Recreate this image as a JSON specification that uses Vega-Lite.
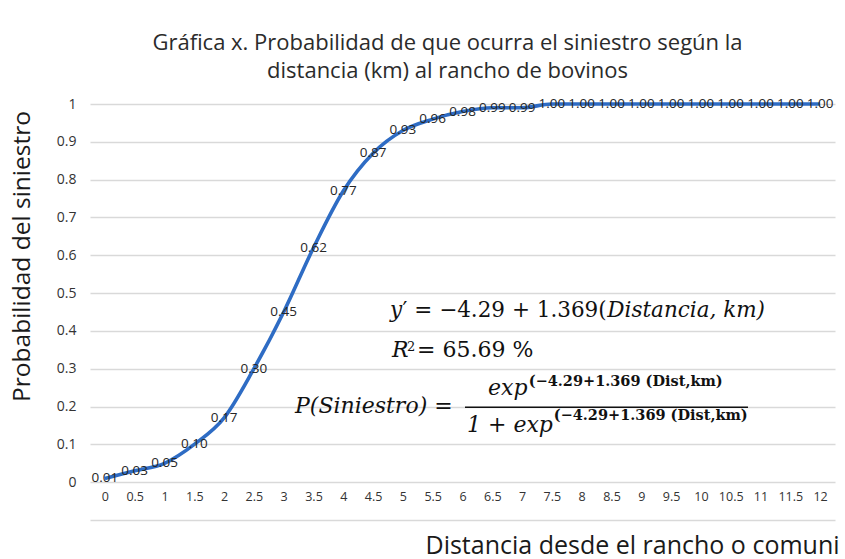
{
  "$schema": "https://vega.github.io/schema/vega-lite/v6.json",
  "width": 745,
  "height": 416,
  "autosize": "none",
  "padding": {"left": 90, "top": 104, "right": 10, "bottom": 39},
  "background": "white",
  "config": {"view": {"stroke": null}, "font": "Open Sans"},
  "title": {
    "text": ["Gráfica x. Probabilidad de que ocurra el siniestro según la", "distancia (km) al rancho de bovinos"],
    "font": "Open Sans",
    "fontSize": 22,
    "fontWeight": "normal",
    "color": "#2b2b2b",
    "lineHeight": 28,
    "anchor": "middle",
    "dx": -15,
    "offset": 14
  },
  "datasets": {
    "curve": [
      {"d": 0, "p": 0.01}, {"d": 0.5, "p": 0.03}, {"d": 1, "p": 0.05}, {"d": 1.5, "p": 0.10},
      {"d": 2, "p": 0.17}, {"d": 2.5, "p": 0.30}, {"d": 3, "p": 0.45}, {"d": 3.5, "p": 0.62},
      {"d": 4, "p": 0.77}, {"d": 4.5, "p": 0.87}, {"d": 5, "p": 0.93}, {"d": 5.5, "p": 0.96},
      {"d": 6, "p": 0.98}, {"d": 6.5, "p": 0.99}, {"d": 7, "p": 0.99}, {"d": 7.5, "p": 1.00},
      {"d": 8, "p": 1.00}, {"d": 8.5, "p": 1.00}, {"d": 9, "p": 1.00}, {"d": 9.5, "p": 1.00},
      {"d": 10, "p": 1.00}, {"d": 10.5, "p": 1.00}, {"d": 11, "p": 1.00}, {"d": 11.5, "p": 1.00},
      {"d": 12, "p": 1.00}
    ],
    "one": [{"n": 1}]
  },
  "layer": [
    {
      "data": {"name": "curve"},
      "encoding": {
        "x": {
          "field": "d", "type": "ordinal",
          "scale": {"type": "point", "padding": 0.5},
          "axis": {
            "title": "Distancia desde el rancho o comuni",
            "titleFont": "Open Sans",
            "titleFontSize": 25,
            "titleFontWeight": "normal",
            "titleColor": "#1a1a1a",
            "titleAnchor": "start",
            "titleAlign": "left",
            "titleX": 335,
            "titleY": 25,
            "titleBaseline": "middle",
            "labelAngle": 0,
            "labelFont": "Open Sans",
            "labelFontSize": 12.5,
            "labelColor": "#333333",
            "labelPadding": -30,
            "labelOverlap": false,
            "ticks": false,
            "domain": true,
            "domainColor": "#d9d9d9",
            "domainWidth": 1.5,
            "grid": false
          }
        },
        "y": {
          "field": "p", "type": "quantitative",
          "scale": {"domain": [-0.1, 1], "nice": false, "zero": false},
          "axis": {
            "values": [0, 0.1, 0.2, 0.3, 0.4, 0.5, 0.6, 0.7, 0.8, 0.9, 1],
            "format": "~g",
            "title": "Probabilidad del siniestro",
            "titleFont": "Open Sans",
            "titleFontSize": 24.5,
            "titleFontWeight": "normal",
            "titleColor": "#1a1a1a",
            "titleX": -68,
            "titleY": 152,
            "titleAngle": -90,
            "titleAlign": "center",
            "titleBaseline": "middle",
            "labelFont": "Open Sans",
            "labelFontSize": 14,
            "labelColor": "#333333",
            "labelPadding": 14,
            "ticks": false,
            "domain": false,
            "grid": true,
            "gridColor": "#d9d9d9",
            "gridWidth": 1.5
          }
        }
      },
      "layer": [
        {"mark": {"type": "line", "interpolate": "monotone", "color": "#2e6cc4", "strokeWidth": 3.6}},
        {"mark": {"type": "text", "font": "Open Sans", "fontSize": 13.5, "color": "#262626", "align": "center", "baseline": "middle"},
         "encoding": {"text": {"field": "p", "type": "quantitative", "format": ".2f"}}}
      ]
    },
    {
      "data": {"name": "one"},
      "layer": [
        {"mark": {"type": "text", "font": "DejaVu Serif", "fontSize": 21.5, "fontStyle": "italic", "align": "left", "baseline": "alphabetic", "color": "#111111"},
         "encoding": {"x": {"datum": 4.784, "type": "quantitative", "scale": {"domain": [-0.25, 12.25], "nice": false, "zero": false}, "axis": null}, "y": {"datum": 0.4365, "type": "quantitative"}, "text": {"value": "y"}}},
        {"mark": {"type": "text", "font": "DejaVu Serif", "fontSize": 21.5, "align": "left", "baseline": "alphabetic", "color": "#111111"},
         "encoding": {"x": {"datum": 4.995, "type": "quantitative"}, "y": {"datum": 0.4365, "type": "quantitative"}, "text": {"value": "′ = −4.29 + 1.369("}}},
        {"mark": {"type": "text", "font": "DejaVu Serif", "fontSize": 21.5, "fontStyle": "italic", "align": "left", "baseline": "alphabetic", "color": "#111111"},
         "encoding": {"x": {"datum": 8.43, "type": "quantitative"}, "y": {"datum": 0.4365, "type": "quantitative"}, "text": {"value": "Distancia, km)"}}},
        {"mark": {"type": "text", "font": "DejaVu Serif", "fontSize": 22, "fontStyle": "italic", "align": "left", "baseline": "alphabetic", "color": "#111111"},
         "encoding": {"x": {"datum": 4.817, "type": "quantitative"}, "y": {"datum": 0.3307, "type": "quantitative"}, "text": {"value": "R"}}},
        {"mark": {"type": "text", "font": "DejaVu Serif", "fontSize": 13, "align": "left", "baseline": "alphabetic", "color": "#111111"},
         "encoding": {"x": {"datum": 5.07, "type": "quantitative"}, "y": {"datum": 0.3466, "type": "quantitative"}, "text": {"value": "2"}}},
        {"mark": {"type": "text", "font": "DejaVu Serif", "fontSize": 22, "align": "left", "baseline": "alphabetic", "color": "#111111"},
         "encoding": {"x": {"datum": 5.237, "type": "quantitative"}, "y": {"datum": 0.3307, "type": "quantitative"}, "text": {"value": "= 65.69 %"}}},
        {"mark": {"type": "text", "font": "DejaVu Serif", "fontSize": 22, "fontStyle": "italic", "align": "left", "baseline": "alphabetic", "color": "#111111"},
         "encoding": {"x": {"datum": 3.19, "type": "quantitative"}, "y": {"datum": 0.1825, "type": "quantitative"}, "text": {"value": "P(Siniestro) ="}}},
        {"mark": {"type": "rule", "color": "#111111", "strokeWidth": 1.5},
         "encoding": {"x": {"datum": 6.042, "type": "quantitative"}, "x2": {"datum": 10.79}, "y": {"datum": 0.1984, "type": "quantitative"}}},
        {"mark": {"type": "text", "font": "DejaVu Serif", "fontSize": 22, "fontStyle": "italic", "align": "left", "baseline": "alphabetic", "color": "#111111"},
         "encoding": {"x": {"datum": 6.428, "type": "quantitative"}, "y": {"datum": 0.230, "type": "quantitative"}, "text": {"value": "exp"}}},
        {"mark": {"type": "text", "font": "DejaVu Serif", "fontSize": 14.5, "fontWeight": "bold", "align": "left", "baseline": "alphabetic", "color": "#111111"},
         "encoding": {"x": {"datum": 7.11, "type": "quantitative"}, "y": {"datum": 0.254, "type": "quantitative"}, "text": {"value": "(−4.29+1.369 (Dist,km)"}}},
        {"mark": {"type": "text", "font": "DejaVu Serif", "fontSize": 22, "fontStyle": "italic", "align": "left", "baseline": "alphabetic", "color": "#111111"},
         "encoding": {"x": {"datum": 6.076, "type": "quantitative"}, "y": {"datum": 0.1323, "type": "quantitative"}, "text": {"value": "1 + exp"}}},
        {"mark": {"type": "text", "font": "DejaVu Serif", "fontSize": 14.5, "fontWeight": "bold", "align": "left", "baseline": "alphabetic", "color": "#111111"},
         "encoding": {"x": {"datum": 7.53, "type": "quantitative"}, "y": {"datum": 0.164, "type": "quantitative"}, "text": {"value": "(−4.29+1.369 (Dist,km)"}}}
      ]
    }
  ],
  "resolve": {"scale": {"x": "independent"}}
}
